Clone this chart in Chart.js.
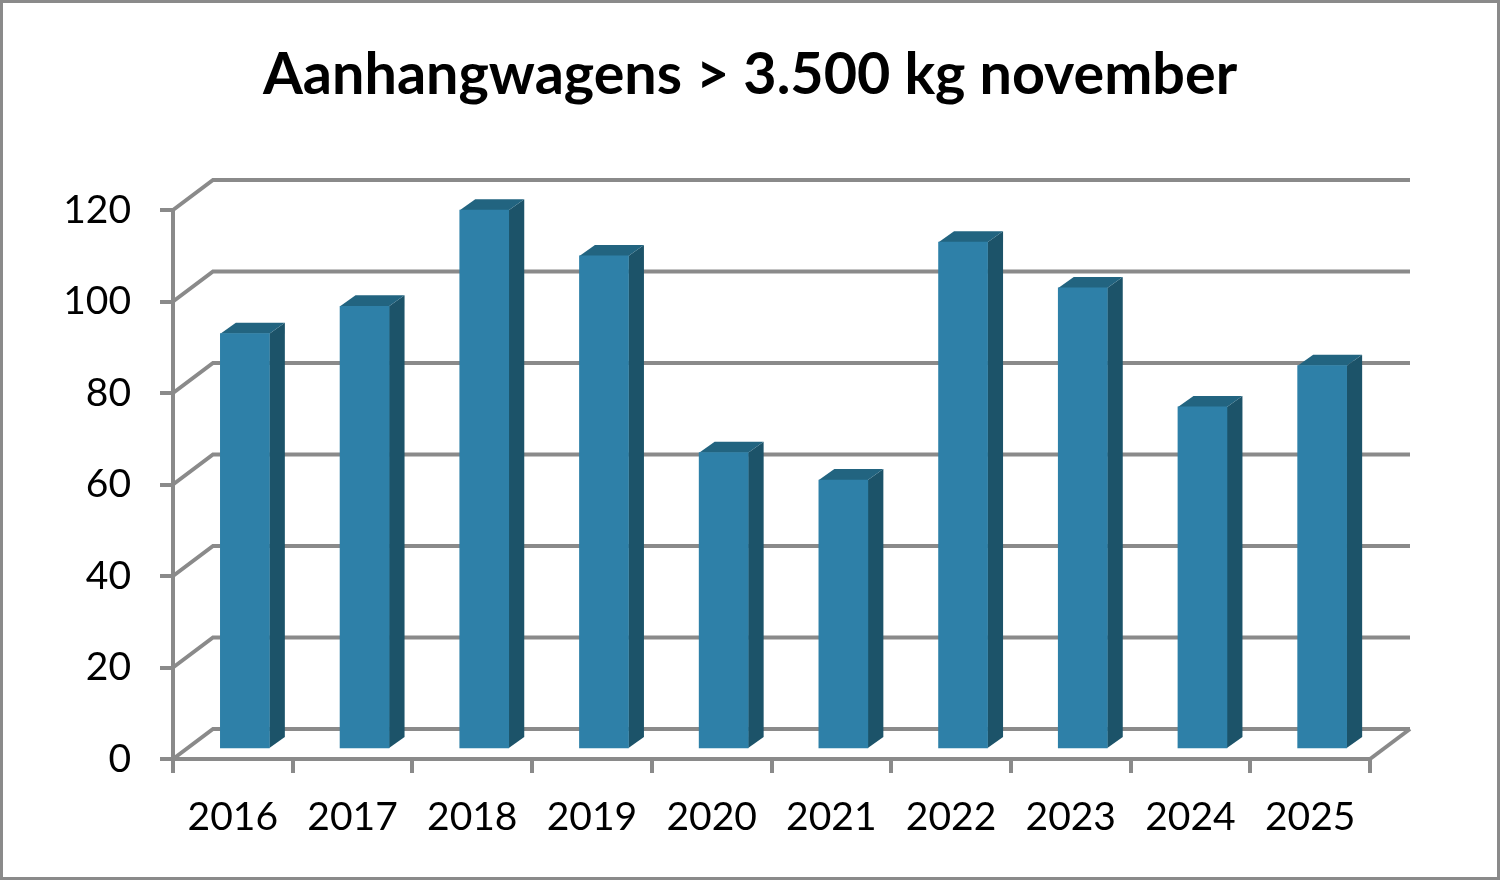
<!DOCTYPE html>
<html>
<head>
<meta charset="utf-8">
<title>Aanhangwagens</title>
<script src="https://cdn.jsdelivr.net/npm/chart.js@4"></script>
<style>
  html, body { margin: 0; padding: 0; background: #fff; }
  #wrap { position: relative; width: 1500px; height: 880px; }
</style>
</head>
<body>
<div id="wrap"><canvas id="chart" width="1500" height="880"></canvas></div>
<script>
var jaren = ['2016', '2017', '2018', '2019', '2020', '2021', '2022', '2023', '2024', '2025'];
var aantallen = [91, 97, 118, 108, 65, 59, 111, 101, 75, 84];
var yTicks = [0, 20, 40, 60, 80, 100, 120];

var GRID = '#8a8a8a';
var FRONT = '#2e80a8';
var SIDE = '#1c5369';
var TOP = '#226480';

// floor/back wall depth and how far the bars stand in from the front
var WALL_DX = 40, WALL_DY = -30;
var BAR_DX = 12, BAR_DY = -9;
var BAR_DEPTH_X = 15.5, BAR_DEPTH_Y = -11;

function poly(ctx, pts, fill) {
  ctx.beginPath();
  ctx.moveTo(pts[0][0], pts[0][1]);
  for (var i = 1; i < pts.length; i++) ctx.lineTo(pts[i][0], pts[i][1]);
  ctx.closePath();
  ctx.fillStyle = fill;
  ctx.fill();
}

var wall3d = {
  id: 'wall3d',
  afterLayout: function (chart) {
    // title is centred on the whole canvas, not on the padded area
    chart.titleBlock.left = 0;
    chart.titleBlock.right = chart.width;
  },
  beforeDatasetsDraw: function (chart) {
    var ctx = chart.ctx, x = chart.scales.x, y = chart.scales.y;
    ctx.save();
    ctx.strokeStyle = GRID;
    ctx.lineWidth = 4;
    yTicks.forEach(function (v) {
      var py = y.getPixelForValue(v);
      ctx.beginPath();
      ctx.moveTo(x.left, py);
      ctx.lineTo(x.left + WALL_DX, py + WALL_DY);
      ctx.lineTo(x.right + WALL_DX, py + WALL_DY);
      ctx.stroke();
    });
    var y0 = y.getPixelForValue(0);
    ctx.beginPath();
    ctx.moveTo(x.right, y0);
    ctx.lineTo(x.right + WALL_DX, y0 + WALL_DY);
    ctx.stroke();
    ctx.restore();

    // bars stand on the floor, a little behind the front edge
    ctx.save();
    ctx.translate(BAR_DX, BAR_DY);
    chart.getDatasetMeta(0).data.forEach(function (bar) {
      var l = bar.x - bar.width / 2, r = bar.x + bar.width / 2;
      var dx = BAR_DEPTH_X, dy = BAR_DEPTH_Y;
      poly(ctx, [[r, bar.y], [r + dx, bar.y + dy], [r + dx, bar.base + dy], [r, bar.base]], SIDE);
      poly(ctx, [[l, bar.y], [l + dx, bar.y + dy], [r + dx, bar.y + dy], [r, bar.y]], TOP);
    });
  },
  afterDatasetsDraw: function (chart) {
    chart.ctx.restore();
  },
  afterDraw: function (chart) {
    var ctx = chart.ctx;
    ctx.save();
    ctx.strokeStyle = GRID;
    ctx.lineWidth = 3;
    ctx.strokeRect(1.5, 1.5, chart.width - 3, chart.height - 3);
    ctx.restore();
  }
};

new Chart(document.getElementById('chart').getContext('2d'), {
  type: 'bar',
  data: {
    labels: jaren,
    datasets: [{ data: aantallen, backgroundColor: FRONT, barThickness: 49, borderWidth: 0 }]
  },
  options: {
    responsive: false,
    animation: false,
    layout: { padding: { left: 0, right: 130, top: 0, bottom: 0 } },
    plugins: {
      legend: { display: false },
      tooltip: { enabled: false },
      title: {
        display: true,
        text: 'Aanhangwagens > 3.500 kg november',
        color: '#000',
        font: { family: 'Lato', size: 57.5, weight: 'bold' },
        padding: { top: 41, bottom: 100 }
      }
    },
    scales: {
      x: {
        grid: { drawOnChartArea: false, color: GRID, lineWidth: 4, tickLength: 14, offset: true },
        border: { color: GRID, width: 4 },
        ticks: { color: '#000', font: { family: 'Lato', size: 39 }, padding: 21, maxRotation: 0 },
        afterFit: function (s) { s.height = 121; }
      },
      y: {
        min: 0,
        max: 120,
        grid: { drawOnChartArea: false, color: GRID, lineWidth: 4, tickLength: 13 },
        border: { color: GRID, width: 4 },
        ticks: {
          color: '#000',
          font: { family: 'Lato', size: 39 },
          padding: 29,
          stepSize: 20
        },
        afterFit: function (s) { s.width = 173; }
      }
    }
  },
  plugins: [wall3d]
});
</script>
</body>
</html>
